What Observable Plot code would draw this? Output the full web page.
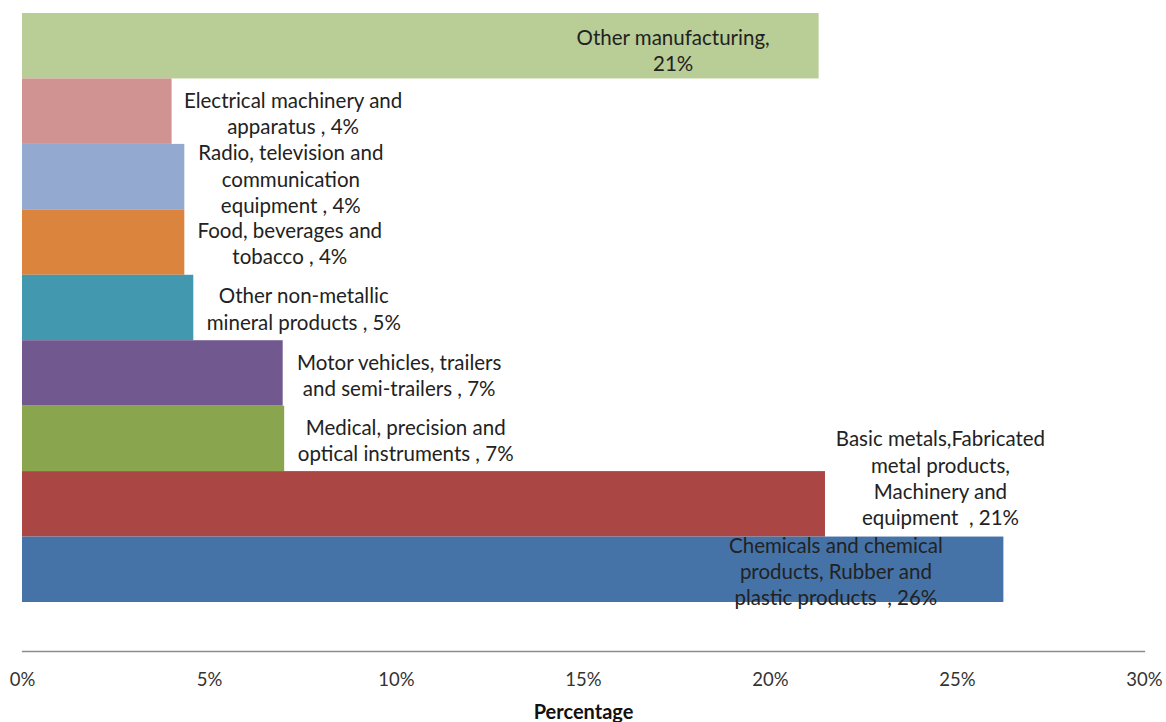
<!DOCTYPE html>
<html>
<head>
<meta charset="utf-8">
<script src="https://cdn.jsdelivr.net/npm/d3@7"></script>
<script src="https://cdn.jsdelivr.net/npm/@observablehq/plot@0.6"></script>
<style>
  body { margin: 0; background: #fff; }
  #chart svg { display: block; }
</style>
</head>
<body>
<div id="chart"></div>
<script>
// ---- data (top to bottom) ----
const categories = [
  "Other manufacturing",
  "Electrical machinery and apparatus",
  "Radio, television and communication equipment",
  "Food, beverages and tobacco",
  "Other non-metallic mineral products",
  "Motor vehicles, trailers and semi-trailers",
  "Medical, precision and optical instruments",
  "Basic metals,Fabricated metal products, Machinery and equipment",
  "Chemicals and chemical products, Rubber and plastic products"
];
const values = [21.3, 4.0, 4.34, 4.34, 4.58, 6.97, 7.01, 21.47, 26.24];
const labels = [
  "Other manufacturing,\n21%",
  "Electrical machinery and\napparatus , 4%",
  "Radio, television and\ncommunication\nequipment , 4%",
  "Food, beverages and\ntobacco , 4%",
  "Other non-metallic\nmineral products , 5%",
  "Motor vehicles, trailers\nand semi-trailers , 7%",
  "Medical, precision and\noptical instruments , 7%",
  "Basic metals,Fabricated\nmetal products,\nMachinery and\nequipment  , 21%",
  "Chemicals and chemical\nproducts, Rubber and\nplastic products  , 26%"
];
const colors = ["#B9CD96", "#D19392", "#93A9CF", "#DB843D", "#4198AF", "#71588F", "#89A54E", "#AA4643", "#4572A7"];
const xTicks = [0, 5, 10, 15, 20, 25, 30];
const axisTitle = "Percentage";

// ---- layout (label offsets from bar end, px) ----
const labelShift = [
  [-146, 3], [121, 1], [106, 1], [105, 0], [110, 0], [116, 1], [121, 1], [115, -27], [-168, 1]
];

const FS = 20.5;   // data labels
const TFS = 18.5;  // tick labels
const data = categories.map((c, i) => ({category: c, value: values[i], label: labels[i]}));

const chart = Plot.plot({
  width: 1166,
  height: 722,
  marginLeft: 22,
  marginRight: 22,
  marginTop: 13,
  marginBottom: 71,
  style: {fontFamily: "Lato, sans-serif", fontSize: TFS + "px", color: "#333", background: "#fff"},
  x: {domain: [0, 30]},
  y: {domain: categories, range: [13, 602], padding: 0, round: false, axis: null},
  color: {domain: categories, range: colors},
  marks: [
    Plot.barX(data, {x: "value", y: "category", fill: "category", inset: 0}),
    Plot.frame({anchor: "bottom", stroke: "#8c8c8c", strokeWidth: 1.3}),
    Plot.axisX({ticks: xTicks, tickFormat: d => d + "%", tickSize: 0, tickPadding: 21, label: null, fontSize: TFS, fill: "#333"}),
    Plot.text([axisTitle], {frameAnchor: "bottom", dy: 61, lineAnchor: "middle", fontWeight: "bold", fill: "#111", fontSize: 20}),
    ...data.map((d, i) => Plot.text([d], {
      x: "value", y: "category", text: "label",
      textAnchor: "middle", lineAnchor: "middle",
      lineHeight: 26.3 / FS,
      dx: labelShift[i][0], dy: labelShift[i][1],
      fill: "#222", fontSize: FS
    }))
  ]
});
document.getElementById("chart").appendChild(chart);
</script>
</body>
</html>
